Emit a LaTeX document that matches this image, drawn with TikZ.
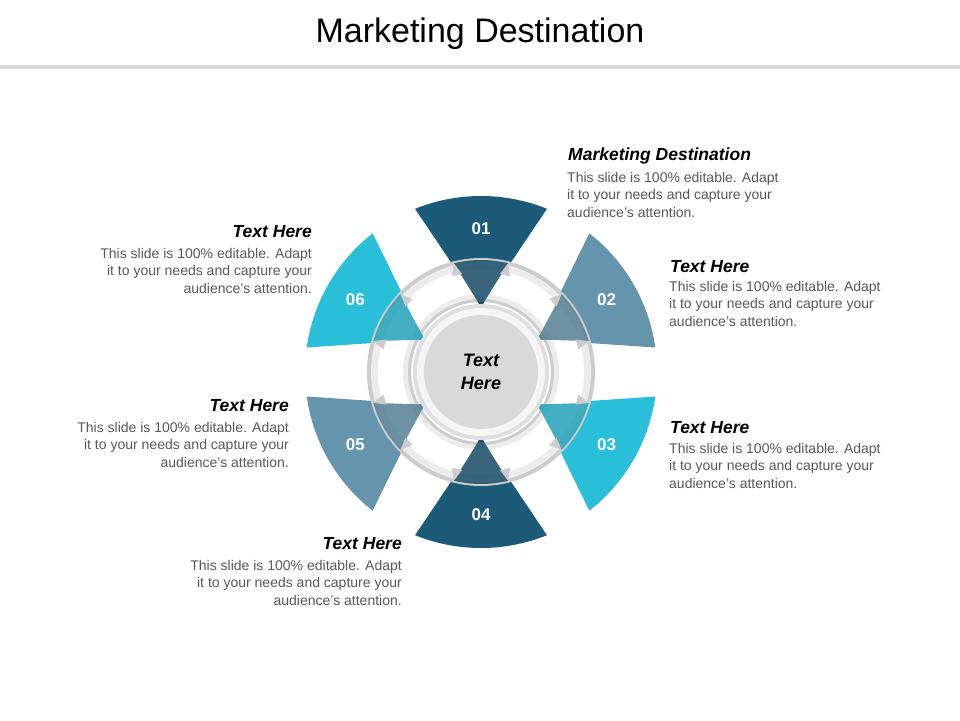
\documentclass[tikz,border=0pt]{standalone}
\usepackage{fontspec}
\setmainfont{Liberation Sans}
\usetikzlibrary{positioning,calc}
\definecolor{darkteal}{HTML}{1B5A78}
\definecolor{steel}{HTML}{6595AC}
\definecolor{cyanish}{HTML}{29BFD9}
\definecolor{bodygray}{HTML}{595959}
\tikzset{
  head/.style={font=\fontsize{17.5}{21}\selectfont\bfseries\itshape, inner sep=0pt},
  body/.style={font=\fontsize{14}{17.6}\selectfont, text=bodygray, inner sep=0pt},
  num/.style={font=\fontsize{17}{20}\selectfont\bfseries, text=white}
}
\begin{document}
\begin{tikzpicture}[x=1pt,y=-1pt]
  \useasboundingbox (0,0) rectangle (960,720);
  \fill[white] (0,0) rectangle (960,720);

  % Title
  \node[font=\fontsize{34}{40}\selectfont] (title) at (480,34) {Marketing Destination};
  \fill[gray!30] (0,65) rectangle (960,69);

  \coordinate (c) at (481,372);

  % Sectors
  \foreach \ang/\col in {90/darkteal, 30/steel, -30/cyanish, -90/darkteal, 210/steel, 150/cyanish}{
    \fill[\col] ($(c)+(-\ang:65)$) -- ($(c)+({-(\ang+22)}:176)$)
      arc[start angle={-(\ang+22)}, end angle={-(\ang-22)}, radius=176] -- cycle;
  }

  % Ring
  \fill[gray!40, even odd rule] (c) circle[radius=114] (c) circle[radius=70];
  \fill[gray!15, even odd rule] (c) circle[radius=110] (c) circle[radius=73];
  \fill[white, even odd rule] (c) circle[radius=103] (c) circle[radius=78];

  % Arrow parts over the ring
  \foreach \ang/\col in {90/darkteal, 30/steel, -30/cyanish, -90/darkteal, 210/steel, 150/cyanish}{
    \fill[\col!85!black, opacity=0.85] ($(c)+(-\ang:65)$) -- ($(c)+({-(\ang+14)}:112)$)
      arc[start angle={-(\ang+14)}, end angle={-(\ang-14)}, radius=112] -- cycle;
    \fill[gray!40] ($(c)+({-(\ang+14)}:112)$) -- ($(c)+({-(\ang+11)}:100)$) -- ($(c)+({-(\ang+17)}:100)$) -- cycle;
    \fill[gray!40] ($(c)+({-(\ang-14)}:112)$) -- ($(c)+({-(\ang-11)}:100)$) -- ($(c)+({-(\ang-17)}:100)$) -- cycle;
  }

  % Centre
  \fill[gray!25] (c) circle[radius=68];
  \fill[gray!8] (c) circle[radius=64];
  \fill[gray!30] (c) circle[radius=57];
  \node[head, align=center, font=\fontsize{18}{23}\selectfont\bfseries\itshape] (centre) at (c) {Text\\Here};

  % Numbers
  \node[num] (n01) at ($(c)+(-90:143)$) {01};
  \node[num] (n02) at ($(c)+(-30:145)$) {02};
  \node[num] (n03) at ($(c)+(30:145)$) {03};
  \node[num] (n04) at ($(c)+(90:143)$) {04};
  \node[num] (n05) at ($(c)+(150:145)$) {05};
  \node[num] (n06) at ($(c)+(210:145)$) {06};

  % Text blocks right
  \node[head, anchor=west] (h01) at (568,156) {Marketing Destination};
  \node[body, anchor=north west, align=left] (b01) at (567,172) {This slide is 100\% editable. Adapt\\it to your needs and capture your\\audience's attention.};
  \node[head, anchor=west] (h02) at (670,267) {Text Here};
  \node[body, anchor=north west, align=left] (b02) at (669,281) {This slide is 100\% editable. Adapt\\it to your needs and capture your\\audience's attention.};
  \node[head, anchor=west] (h03) at (670,428) {Text Here};
  \node[body, anchor=north west, align=left] (b03) at (669,443) {This slide is 100\% editable. Adapt\\it to your needs and capture your\\audience's attention.};

  % Text blocks left
  \node[head, anchor=east] (h06) at (312,232) {Text Here};
  \node[body, anchor=north east, align=right] (b06) at (312,248) {This slide is 100\% editable. Adapt\\it to your needs and capture your\\audience's attention.};
  \node[head, anchor=east] (h05) at (289,406) {Text Here};
  \node[body, anchor=north east, align=right] (b05) at (289,422) {This slide is 100\% editable. Adapt\\it to your needs and capture your\\audience's attention.};
  \node[head, anchor=east] (h04) at (402,544) {Text Here};
  \node[body, anchor=north east, align=right] (b04) at (402,560) {This slide is 100\% editable. Adapt\\it to your needs and capture your\\audience's attention.};
\end{tikzpicture}
\end{document}
